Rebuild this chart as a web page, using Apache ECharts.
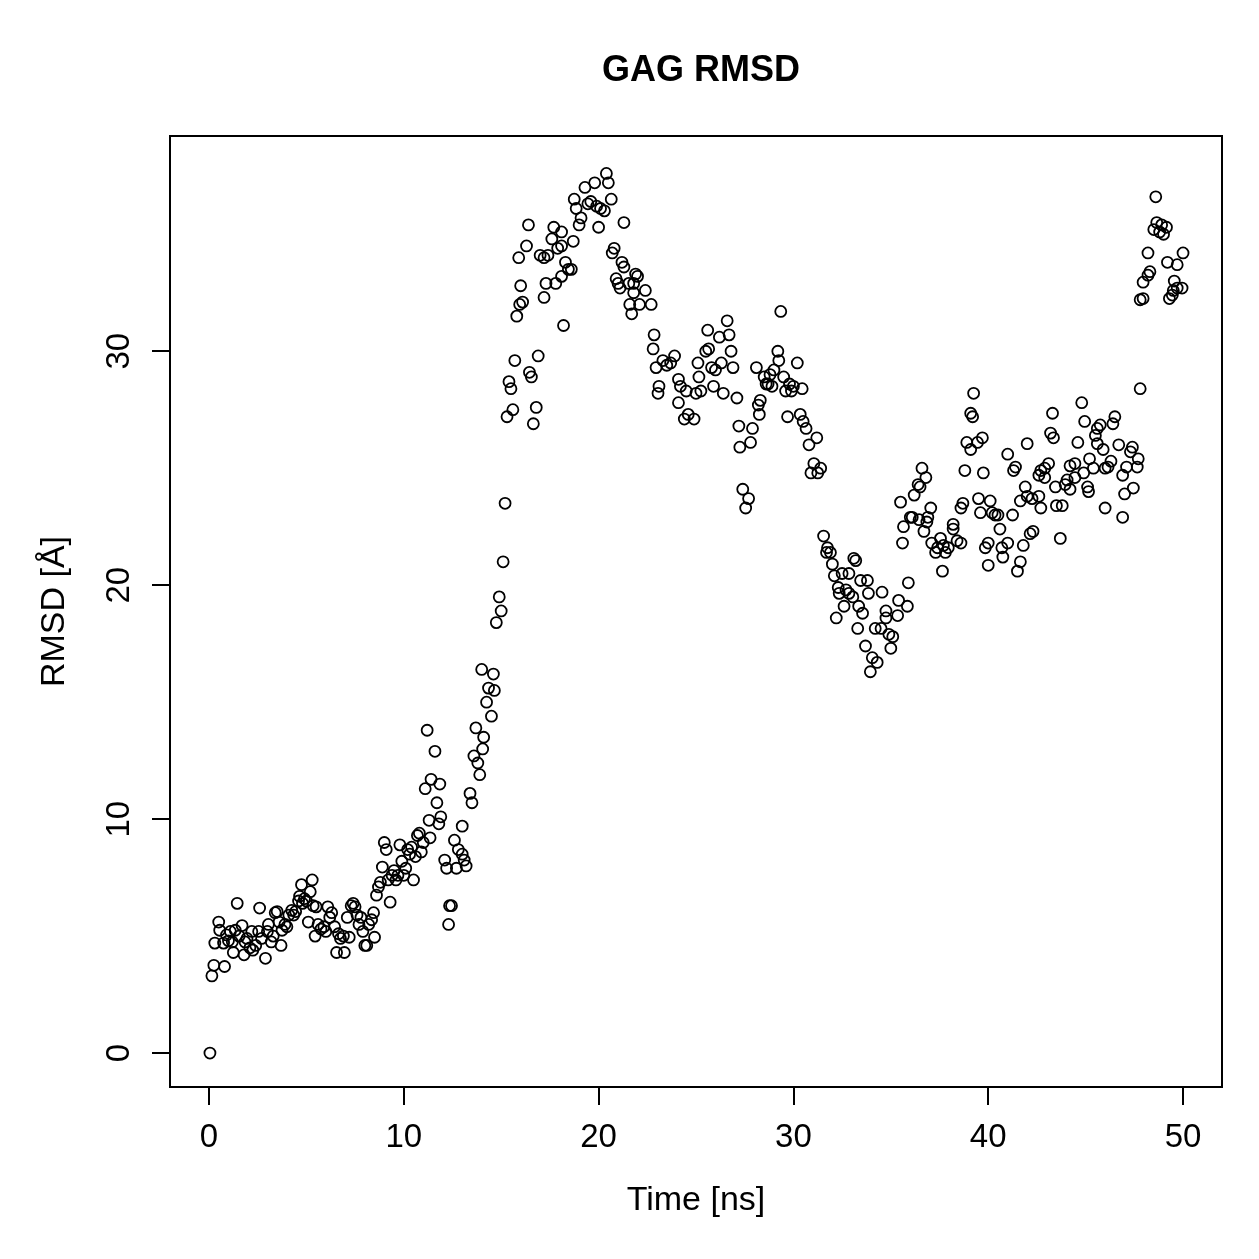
<!DOCTYPE html>
<html lang="en">
<head>
    <meta charset="UTF-8">
    <title>GAG RMSD</title>
    <script src="https://cdn.jsdelivr.net/npm/echarts@6/dist/echarts.min.js"></script>
    <style>
        html, body { margin: 0; padding: 0; background: #fff; }
        #chart { width: 1259px; height: 1259px; }
    </style>
</head>
<body>
<div id="chart"></div>
<script>
    // 时间 [ns], RMSD [Å] —— 点
    var points = [
        [0.05,0.0],[0.15,3.3],[0.25,3.75],[0.3,4.7],[0.5,5.6],[0.55,5.25],[0.75,4.7],[0.8,3.7],[0.9,5.05],[1.0,4.8],
        [1.1,5.2],[1.2,4.75],[1.25,4.3],[1.35,5.25],[1.45,6.4],[1.55,5.0],[1.7,5.45],[1.8,4.2],[1.85,4.75],[1.95,4.9],
        [2.1,4.5],[2.2,5.2],[2.25,4.4],[2.4,4.6],[2.55,5.2],[2.6,6.2],[2.7,4.9],[2.9,4.05],[3.0,5.2],[3.05,5.5],
        [3.2,4.75],[3.3,5.0],[3.4,6.0],[3.5,6.05],[3.6,5.6],[3.7,4.6],[3.75,5.25],[3.9,5.5],[4.0,5.4],[4.1,5.9],
        [4.25,6.1],[4.35,5.9],[4.45,6.05],[4.6,6.5],[4.65,6.7],[4.75,7.2],[4.8,6.4],[4.9,6.6],[5.0,6.5],[5.1,5.6],
        [5.2,6.9],[5.3,7.4],[5.35,6.3],[5.45,5.0],[5.5,6.25],[5.6,5.5],[5.75,5.3],[5.9,5.4],[6.0,5.2],[6.1,6.25],
        [6.2,5.8],[6.3,6.0],[6.45,5.4],[6.55,4.3],[6.65,5.1],[6.75,4.9],[6.9,5.0],[6.95,4.3],[7.1,5.8],[7.2,4.95],
        [7.3,6.3],[7.4,6.4],[7.5,6.25],[7.6,5.9],[7.7,5.5],[7.8,5.8],[7.9,5.2],[8.0,4.6],[8.1,4.6],[8.2,5.5],
        [8.35,5.7],[8.45,6.0],[8.5,4.95],[8.6,6.75],[8.7,7.1],[8.8,7.3],[8.9,7.95],[9.0,9.0],[9.1,8.7],[9.2,7.4],
        [9.3,6.45],[9.4,7.6],[9.5,7.8],[9.6,7.4],[9.7,7.6],[9.8,8.9],[9.9,8.2],[10.0,7.6],[10.1,7.9],[10.2,8.7],
        [10.3,8.5],[10.4,8.8],[10.5,7.4],[10.6,8.4],[10.7,9.3],[10.8,9.4],[10.9,8.6],[11.0,9.0],[11.1,11.3],[11.2,13.8],
        [11.3,9.95],[11.35,9.2],[11.4,11.7],[11.6,12.9],[11.7,10.7],[11.8,9.8],[11.85,11.5],[11.9,10.1],[12.1,8.25],[12.2,7.9],
        [12.3,5.5],[12.35,6.3],[12.45,6.3],[12.6,9.1],[12.7,7.9],[12.8,8.7],[13.0,8.5],[13.0,9.7],[13.1,8.25],[13.2,8.0],
        [13.4,11.1],[13.5,10.7],[13.6,12.7],[13.7,13.9],[13.8,12.4],[13.9,11.9],[14.0,16.4],[14.05,13.0],[14.1,13.5],[14.25,15.0],
        [14.35,15.6],[14.5,14.4],[14.6,16.2],[14.65,15.5],[14.75,18.4],[14.9,19.5],[15.0,18.9],[15.1,21.0],[15.2,23.5],[15.3,27.2],
        [15.4,28.7],[15.5,28.4],[15.6,27.5],[15.7,29.6],[15.8,31.5],[15.9,34.0],[15.95,32.0],[16.0,32.8],[16.1,32.1],[16.3,34.5],
        [16.4,35.4],[16.45,29.1],[16.55,28.9],[16.65,26.9],[16.8,27.6],[16.9,29.8],[17.0,34.1],[17.2,34.0],[17.2,32.3],[17.3,32.9],
        [17.4,34.1],[17.6,34.8],[17.7,35.3],[17.8,32.9],[17.9,34.4],[18.1,35.1],[18.1,33.2],[18.1,34.5],[18.2,31.1],[18.3,33.8],
        [18.45,33.5],[18.6,33.5],[18.7,34.7],[18.75,36.5],[18.85,36.1],[19.0,35.4],[19.1,35.7],[19.3,37.0],[19.45,36.3],[19.6,36.4],
        [19.8,37.2],[19.9,36.2],[20.0,35.3],[20.1,36.1],[20.3,36.0],[20.4,37.6],[20.5,37.2],[20.65,36.5],[20.7,34.2],[20.8,34.4],
        [20.9,33.1],[21.0,32.9],[21.1,32.7],[21.2,33.8],[21.3,35.5],[21.3,33.6],[21.55,32.9],[21.6,32.0],[21.7,31.6],[21.8,32.5],
        [21.8,32.9],[21.9,33.3],[22.0,33.2],[22.1,32.0],[22.4,32.6],[22.7,32.0],[22.8,30.1],[22.85,30.7],[22.95,29.3],[23.05,28.2],
        [23.1,28.5],[23.3,29.6],[23.5,29.4],[23.7,29.5],[23.9,29.8],[24.1,28.8],[24.1,27.8],[24.2,28.5],[24.4,27.1],[24.5,28.3],
        [24.6,27.3],[24.9,27.1],[25.0,28.2],[25.1,29.5],[25.15,28.9],[25.25,28.3],[25.5,30.0],[25.6,30.9],[25.65,30.1],[25.8,29.3],
        [25.9,28.5],[26.0,29.2],[26.2,30.6],[26.3,29.5],[26.4,28.2],[26.6,31.3],[26.7,30.7],[26.8,30.0],[26.9,29.3],[27.1,28.0],
        [27.2,26.8],[27.25,25.9],[27.4,24.1],[27.55,23.3],[27.7,23.7],[27.8,26.1],[27.9,26.7],[28.1,29.3],[28.2,27.7],[28.25,27.3],
        [28.3,27.9],[28.5,28.9],[28.6,28.6],[28.7,28.6],[28.8,29.0],[28.9,28.5],[29.0,29.2],[29.2,30.0],[29.25,29.6],[29.35,31.7],
        [29.5,28.9],[29.6,28.3],[29.7,27.2],[29.8,28.6],[29.9,28.3],[30.0,28.5],[30.2,29.5],[30.35,27.3],[30.45,28.4],[30.5,27.0],
        [30.65,26.7],[30.8,26.0],[30.9,24.8],[31.05,25.2],[31.2,26.3],[31.25,24.8],[31.4,25.0],[31.55,22.1],[31.7,21.4],[31.75,21.6],
        [31.9,21.4],[32.0,20.9],[32.1,20.4],[32.2,18.6],[32.3,19.9],[32.35,19.65],[32.5,20.5],[32.6,19.1],[32.7,19.8],[32.85,19.65],
        [32.85,20.5],[33.05,19.5],[33.1,21.15],[33.2,21.05],[33.3,18.15],[33.35,19.1],[33.45,20.2],[33.55,18.8],[33.7,17.4],[33.8,20.2],
        [33.85,19.65],[33.95,16.3],[34.05,16.9],[34.2,18.15],[34.3,16.7],[34.5,18.15],[34.55,19.7],[34.75,18.9],[34.75,18.6],[34.9,17.9],
        [35.0,17.3],[35.1,17.8],[35.35,18.7],[35.4,19.35],[35.5,23.55],[35.6,21.8],[35.65,22.5],[35.85,19.1],[35.9,20.1],[36.0,22.9],
        [36.1,22.9],[36.2,23.85],[36.4,24.3],[36.45,22.8],[36.5,24.2],[36.6,25.0],[36.7,22.3],[36.8,24.6],[36.85,22.7],[36.9,22.9],
        [37.05,23.3],[37.1,21.8],[37.3,21.4],[37.4,21.6],[37.55,22.0],[37.65,20.6],[37.7,21.7],[37.8,21.4],[37.95,21.6],[38.2,22.6],
        [38.2,22.4],[38.4,21.9],[38.6,21.8],[38.6,23.3],[38.7,23.5],[38.8,24.9],[38.9,26.1],[39.1,25.8],[39.1,27.35],[39.2,27.2],
        [39.25,28.2],[39.45,26.1],[39.5,23.7],[39.6,23.1],[39.7,26.3],[39.75,24.8],[39.85,21.6],[40.0,21.8],[40.0,20.85],[40.1,23.6],
        [40.2,23.1],[40.35,23.0],[40.5,23.0],[40.6,22.4],[40.7,21.6],[40.75,21.2],[41.0,21.8],[41.0,25.6],[41.25,23.0],[41.3,24.9],
        [41.4,25.05],[41.5,20.6],[41.65,21.0],[41.65,23.6],[41.8,21.7],[41.9,24.2],[42.0,26.05],[42.0,23.8],[42.15,22.2],[42.25,23.7],
        [42.3,22.3],[42.6,24.7],[42.6,23.8],[42.7,24.9],[42.7,23.3],[42.9,25.0],[42.9,24.6],[43.1,25.2],[43.2,26.5],[43.3,27.35],
        [43.35,26.3],[43.45,24.2],[43.5,23.4],[43.7,22.0],[43.8,23.4],[43.95,24.3],[44.05,24.5],[44.2,25.1],[44.2,24.1],[44.45,25.2],
        [44.45,24.6],[44.6,26.1],[44.8,27.8],[44.9,24.8],[44.95,27.0],[45.1,24.2],[45.15,24.0],[45.2,25.4],[45.4,25.0],[45.5,26.4],
        [45.6,26.7],[45.6,26.05],[45.75,26.85],[45.9,25.8],[46.0,25.0],[46.0,23.3],[46.15,25.05],[46.3,25.3],[46.4,26.9],[46.5,27.2],
        [46.7,26.0],[46.9,24.7],[46.9,22.9],[47.0,23.9],[47.1,25.05],[47.3,25.7],[47.4,25.9],[47.45,24.15],[47.65,25.05],[47.7,25.4],
        [47.8,28.4],[47.8,32.2],[47.95,32.25],[47.95,32.95],[48.2,33.25],[48.2,34.2],[48.3,33.4],[48.5,35.2],[48.6,36.6],[48.65,35.5],
        [48.8,35.1],[48.9,35.4],[49.0,35.0],[49.15,35.3],[49.2,33.8],[49.3,32.25],[49.45,32.4],[49.5,32.6],[49.55,33.0],[49.7,33.7],
        [49.7,32.7],[49.95,32.7],[50.0,34.2]
    ];

    var xTicks = [0, 10, 20, 30, 40, 50];
    var yTicks = [0, 10, 20, 30];

    var font = '"Liberation Sans", Arial, Helvetica, sans-serif';

    var chart = echarts.init(document.getElementById('chart'));

    var option = {
        animation: false,
        backgroundColor: '#fff',
        title: {
            text: 'GAG RMSD',
            left: 696,
            top: 48,
            textAlign: 'center',
            textStyle: {
                fontFamily: font,
                fontSize: 36,
                fontWeight: 'bold',
                color: '#000'
            }
        },
        grid: {
            left: 170,
            top: 136,
            width: 1052,
            height: 951,
            show: true,
            borderColor: '#000',
            borderWidth: 2,
            backgroundColor: 'transparent'
        },
        xAxis: {
            type: 'value',
            min: -2,
            max: 52,
            name: 'Time [ns]',
            nameLocation: 'middle',
            nameGap: 97,
            nameTextStyle: {fontFamily: font, fontSize: 34, color: '#000'},
            axisLine: {show: false, onZero: false},
            splitLine: {show: false},
            axisTick: {
                show: true,
                inside: false,
                length: 18,
                customValues: xTicks,
                lineStyle: {color: '#000', width: 2}
            },
            axisLabel: {
                customValues: xTicks,
                margin: 34,
                fontFamily: font,
                fontSize: 33,
                color: '#000'
            }
        },
        yAxis: {
            type: 'value',
            min: -1.45,
            max: 39.2,
            name: 'RMSD [Å]',
            nameLocation: 'middle',
            nameGap: 98,
            nameRotate: 90,
            nameTextStyle: {fontFamily: font, fontSize: 34, color: '#000'},
            axisLine: {show: false, onZero: false},
            splitLine: {show: false},
            axisTick: {
                show: true,
                inside: false,
                length: 18,
                customValues: yTicks,
                lineStyle: {color: '#000', width: 2}
            },
            axisLabel: {
                customValues: yTicks,
                rotate: 90,
                margin: 34,
                fontFamily: font,
                fontSize: 33,
                color: '#000'
            }
        },
        series: [{
            type: 'scatter',
            data: points,
            symbol: 'circle',
            symbolSize: 11,
            itemStyle: {
                color: 'rgba(0,0,0,0)',
                borderColor: '#000',
                borderWidth: 1.8,
                opacity: 1
            },
            emphasis: {disabled: true}
        }]
    };

    chart.setOption(option);
</script>
</body>
</html>
